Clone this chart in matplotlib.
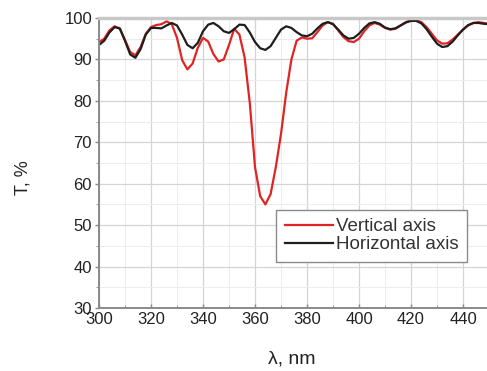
import matplotlib
matplotlib.use("Agg")
import matplotlib.pyplot as plt
from matplotlib.ticker import MultipleLocator

plt.rcParams["font.family"] = ["Liberation Sans", "DejaVu Sans"]

wavelength = [300, 302, 304, 306, 308, 310, 312, 314, 316, 318,
              320, 322, 324, 326, 328, 330, 332, 334, 336, 338,
              340, 342, 344, 346, 348, 350, 352, 354, 356, 358,
              360, 362, 364, 366, 368, 370, 372, 374, 376, 378,
              380, 382, 384, 386, 388, 390, 392, 394, 396, 398,
              400, 402, 404, 406, 408, 410, 412, 414, 416, 418,
              420, 422, 424, 426, 428, 430, 432, 434, 436, 438,
              440, 442, 444, 446, 448, 450]

t_vertical = [94.2, 95.0, 97.0, 98.0, 97.4, 94.7, 91.8, 91.0, 93.0, 96.2,
              97.8, 98.3, 98.5, 99.2, 98.5, 95.2, 89.8, 87.6, 89.0, 92.8,
              95.2, 94.3, 91.3, 89.5, 90.0, 93.5, 97.4, 96.0, 90.5, 79.5,
              64.0, 57.0, 55.0, 57.5, 64.0, 72.0, 82.0, 90.0, 94.5, 95.3,
              95.0, 95.1, 96.6, 98.2, 99.0, 98.6, 97.0, 95.4, 94.4, 94.2,
              95.0, 96.8, 98.2, 98.8, 98.4, 97.6, 97.2, 97.4, 98.2, 99.0,
              99.5, 99.5, 99.0, 97.8, 96.2, 94.6, 93.8, 93.9, 94.8, 96.0,
              97.2, 98.2, 98.8, 99.0, 98.8, 98.6]

t_horizontal = [93.5, 94.5, 96.5, 97.8, 97.5, 94.5, 91.2, 90.4, 92.5, 96.0,
                97.6, 97.6, 97.5, 98.2, 98.8, 98.2, 96.0, 93.5, 92.7, 94.0,
                96.8, 98.4, 98.8, 98.0, 96.8, 96.4, 97.3, 98.4, 98.3, 96.5,
                94.2, 92.7, 92.3, 93.2, 95.2, 97.2, 98.0, 97.6, 96.6, 95.8,
                95.6, 96.2, 97.5, 98.6, 99.0, 98.5, 97.2, 95.8, 95.0, 95.2,
                96.2, 97.6, 98.7, 99.0, 98.6, 97.7, 97.3, 97.5, 98.2, 98.9,
                99.3, 99.3, 98.7, 97.3, 95.5, 93.8, 93.0, 93.2, 94.3, 95.8,
                97.2, 98.3, 98.8, 98.8, 98.6, 98.5]

fig = plt.figure(figsize=(4.87, 3.71), dpi=100)
ax = fig.add_axes([99 / 487, 63 / 371, 390 / 487, 290 / 371])

ax.plot(wavelength, t_vertical, color="#e02424", lw=1.6, label="Vertical axis")
ax.plot(wavelength, t_horizontal, color="#1e1e1e", lw=1.6, label="Horizontal axis")

ax.set_xlim(300, 450)
ax.set_ylim(30, 100)
ax.xaxis.set_major_locator(MultipleLocator(20))
ax.xaxis.set_minor_locator(MultipleLocator(10))
ax.yaxis.set_major_locator(MultipleLocator(10))
ax.yaxis.set_minor_locator(MultipleLocator(5))
ax.grid(which="major", color="#d4d4d4", lw=0.9)
ax.grid(which="minor", color="#ececec", lw=0.7)
ax.set_axisbelow(True)

ax.tick_params(axis="both", which="major", labelsize=12, colors="#888888",
               labelcolor="#222222", length=3, width=1)
ax.tick_params(axis="x", which="both", direction="in", pad=3)
ax.tick_params(axis="y", which="both", direction="out", pad=2)
ax.tick_params(which="minor", length=2, colors="#888888")

for side in ["left", "bottom", "right"]:
    ax.spines[side].set_color("#8a8a8a")
    ax.spines[side].set_linewidth(1.4)
ax.spines["top"].set_color("#c8c8c8")
ax.spines["top"].set_linewidth(2.5)

ax.set_xlabel("λ, nm", fontsize=14, color="#222222")
ax.xaxis.set_label_coords(0.495, -0.145)
ax.set_ylabel("T, %", fontsize=13, color="#222222")
ax.yaxis.set_label_coords(-0.172, 0.45)

leg = ax.legend(loc="lower right", bbox_to_anchor=(0.944, 0.159),
                borderaxespad=0, fontsize=13.5, fancybox=False,
                handlelength=2.6, handletextpad=0.15, borderpad=0.45,
                labelspacing=0.05, framealpha=1)
leg.get_frame().set_edgecolor("#8a8a8a")
leg.get_frame().set_linewidth(1.0)
for txt in leg.get_texts():
    txt.set_color("#333333")

fig.savefig("out.png", dpi=100)
